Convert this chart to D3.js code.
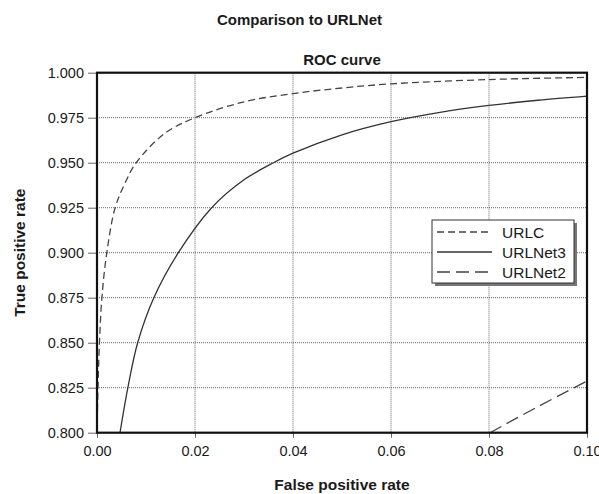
<!DOCTYPE html>
<html>
<head>
<meta charset="utf-8">
<script src="https://cdnjs.cloudflare.com/ajax/libs/d3/7.8.5/d3.min.js"></script>
<style>
  body { margin: 0; background: #fff; }
  text { font-family: "Liberation Sans", Arial, sans-serif; fill: #1a1a1a; }
</style>
</head>
<body>
<svg id="canvas" width="599" height="494"></svg>
<script>
// curve points
let urlcFpr = [0, 0.0002, 0.0005, 0.001, 0.002, 0.0037, 0.0057, 0.008, 0.0139, 0.02, 0.03, 0.04, 0.05, 0.06, 0.08, 0.10]
let urlcTpr = [0.800, 0.825, 0.850, 0.875, 0.900, 0.925, 0.9385, 0.950, 0.9664, 0.975, 0.9838, 0.9884, 0.9915, 0.9938, 0.9962, 0.9974]

let net3Fpr = [0.0047, 0.0063, 0.0083, 0.0116, 0.0166, 0.0234, 0.030, 0.036, 0.040, 0.050, 0.060, 0.070, 0.080, 0.090, 0.100]
let net3Tpr = [0.800, 0.825, 0.850, 0.875, 0.900, 0.925, 0.9405, 0.950, 0.9553, 0.9655, 0.9728, 0.978, 0.9818, 0.9847, 0.987]

let net2Fpr = [0.0802, 0.09, 0.10]
let net2Tpr = [0.800, 0.8145, 0.8287]

let xTicks = [0, 0.02, 0.04, 0.06, 0.08, 0.10]
let yTicks = [0.800, 0.825, 0.850, 0.875, 0.900, 0.925, 0.950, 0.975, 1.000]

let seriesNames = ['URLC', 'URLNet3', 'URLNet2']

let svg = d3.select('#canvas')

let plotLeft = 97, plotRight = 587, plotTop = 72.7, plotBottom = 432.7

let xScale = d3.scaleLinear().domain([0, 0.10]).range([plotLeft, plotRight])
let yScale = d3.scaleLinear().domain([0.8, 1.0]).range([plotBottom, plotTop])

// titles
svg.append('text')
   .attr('x', 299.5).attr('y', 25)
   .attr('text-anchor', 'middle')
   .style('font-size', '15px').style('font-weight', 'bold')
   .text('Comparison to URLNet')

svg.append('text')
   .attr('x', (plotLeft + plotRight) / 2).attr('y', 65)
   .attr('text-anchor', 'middle')
   .style('font-size', '15px').style('font-weight', 'bold')
   .text('ROC curve')

// grid
svg.append('g')
   .selectAll('line')
   .data(yTicks)
   .enter()
   .append('line')
   .attr('x1', plotLeft).attr('x2', plotRight)
   .attr('y1', (d) => yScale(d)).attr('y2', (d) => yScale(d))
   .attr('stroke', '#666').attr('stroke-width', 1)
   .attr('stroke-dasharray', '1,1')

svg.append('g')
   .selectAll('line')
   .data(xTicks)
   .enter()
   .append('line')
   .attr('x1', (d) => xScale(d)).attr('x2', (d) => xScale(d))
   .attr('y1', plotTop).attr('y2', plotBottom)
   .attr('stroke', '#666').attr('stroke-width', 1)
   .attr('stroke-dasharray', '1,1')

// axes
let xAxis = d3.axisBottom(xScale).tickValues(xTicks).tickFormat(d3.format('.2f')).tickSize(5).tickPadding(8)
let yAxis = d3.axisLeft(yScale).tickValues(yTicks).tickFormat(d3.format('.3f')).tickSize(9).tickPadding(4)

let gx = svg.append('g').attr('transform', 'translate(0,' + plotBottom + ')').call(xAxis)
let gy = svg.append('g').attr('transform', 'translate(' + plotLeft + ',0)').call(yAxis)

for (let g of [gx, gy]) {
  g.select('.domain').remove()
  g.selectAll('.tick line').attr('stroke', '#666')
  g.selectAll('.tick text')
   .style('font-size', '14.5px')
   .style('font-family', '"Liberation Sans", Arial, sans-serif')
   .attr('fill', '#1a1a1a')
}

svg.append('text')
   .attr('x', (plotLeft + plotRight) / 2).attr('y', 490)
   .attr('text-anchor', 'middle')
   .style('font-size', '15.5px').style('font-weight', 'bold')
   .text('False positive rate')

svg.append('text')
   .attr('transform', 'translate(25,' + (plotTop + plotBottom) / 2 + ') rotate(-90)')
   .attr('text-anchor', 'middle')
   .style('font-size', '15.5px').style('font-weight', 'bold')
   .text('True positive rate')

// curves
let clip = svg.append('clipPath').attr('id', 'plotclip')
clip.append('rect').attr('x', plotLeft).attr('y', plotTop).attr('width', plotRight - plotLeft).attr('height', plotBottom - plotTop)

let line = d3.line()
  .x((d) => xScale(d[0]))
  .y((d) => yScale(d[1]))
  .curve(d3.curveCatmullRom.alpha(0.5))

let styles = [
  { stroke: '#444', dash: '7,4', width: 1.3 },
  { stroke: '#333', dash: null, width: 1.3 },
  { stroke: '#444', dash: '13,6', width: 1.3 }
]

let curves = [
  d3.zip(urlcFpr, urlcTpr),
  d3.zip(net3Fpr, net3Tpr),
  d3.zip(net2Fpr, net2Tpr)
]

svg.append('g')
   .attr('clip-path', 'url(#plotclip)')
   .selectAll('path')
   .data(curves)
   .enter()
   .append('path')
   .attr('d', (d) => line(d))
   .attr('fill', 'none')
   .attr('stroke', (d, i) => styles[i].stroke)
   .attr('stroke-width', (d, i) => styles[i].width)
   .attr('stroke-dasharray', (d, i) => styles[i].dash)

// frame
svg.append('rect')
   .attr('x', plotLeft).attr('y', plotTop)
   .attr('width', plotRight - plotLeft).attr('height', plotBottom - plotTop)
   .attr('fill', 'none')
   .attr('stroke', '#111').attr('stroke-width', 2.2)

// legend
let lx = 432, ly = 220, lw = 142, lh = 63
svg.append('rect')
   .attr('x', lx + 3).attr('y', ly + 3).attr('width', lw).attr('height', lh)
   .attr('fill', '#777')
svg.append('rect')
   .attr('x', lx).attr('y', ly).attr('width', lw).attr('height', lh)
   .attr('fill', '#fff').attr('stroke', '#333').attr('stroke-width', 1)

let entry = svg.append('g')
   .selectAll('g')
   .data(seriesNames)
   .enter()
   .append('g')
   .attr('transform', (d, i) => 'translate(' + lx + ',' + (ly + 12 + i * 20) + ')')

entry.append('line')
   .attr('x1', 5).attr('x2', 60)
   .attr('y1', 0).attr('y2', 0)
   .attr('stroke', (d, i) => styles[i].stroke)
   .attr('stroke-width', 1.3)
   .attr('stroke-dasharray', (d, i) => styles[i].dash)

entry.append('text')
   .attr('x', 70).attr('y', 5.5)
   .style('font-size', '15.5px')
   .text((d) => d)
</script>
</body>
</html>
